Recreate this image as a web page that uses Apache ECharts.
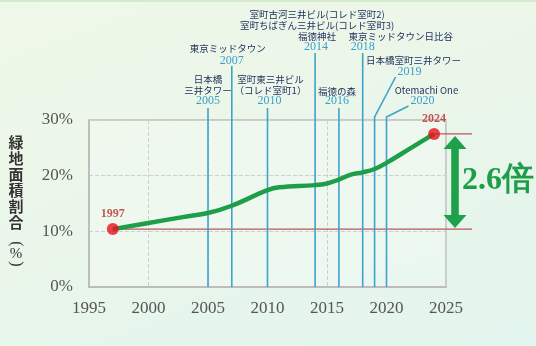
<!DOCTYPE html>
<html><head><meta charset="utf-8">
<script src="https://cdn.jsdelivr.net/npm/echarts@6/dist/echarts.min.js"></script>
<style>
html,body{margin:0;padding:0;}
#wrap{position:relative;width:536px;height:346px;background:linear-gradient(160deg,#eff8e8 0%,#eaf6ea 50%,#e2f5ee 100%);}
#strip{position:absolute;left:0;top:0;width:536px;height:2px;background:#d3ebcc;}
#c{position:absolute;left:0;top:0;width:536px;height:346px;}
</style></head>
<body><div id="wrap"><div id="strip"></div><div id="c"></div></div>
<script>
// ---- data ----
const curveYears  = [1997, 2000, 2003, 2005, 2007, 2010, 2011, 2014, 2015, 2016, 2017, 2018, 2019, 2020, 2022, 2024];
const curveValues = [10.4, 11.5, 12.6, 13.3, 14.6, 17.4, 17.9, 18.3, 18.6, 19.3, 20.2, 20.6, 21.2, 22.3, 24.9, 27.5];
const keyYears  = [1997, 2024];
const keyValues = [10.4, 27.5];
const ratioText = "2.6倍";
const eventYears = [2005, 2007, 2010, 2014, 2016, 2018, 2019, 2020];
const eventNames = [
  ["日本橋", "三井タワー"],
  ["東京ミッドタウン"],
  ["室町東三井ビル", "（コレド室町1）"],
  ["室町古河三井ビル(コレド室町2)", "室町ちばぎん三井ビル(コレド室町3)", "福徳神社"],
  ["福徳の森"],
  ["東京ミッドタウン日比谷"],
  ["日本橋室町三井タワー"],
  ["Otemachi One"]
];
const xTicks = [1995, 2000, 2005, 2010, 2015, 2020, 2025];
const yTicks = [0, 10, 20, 30];
const yAxisTitle = ["緑", "地", "面", "積", "割", "合"];
const yAxisUnit = ["(", "%", ")"];

// ---- layout (pixels) ----
const evLayout = [
  {top:108, nameDx:0,  nameY:[79,90],     yearDx:0,  yearY:101},
  {top:66,  nameDx:-4, nameY:[48],        yearDx:0,  yearY:61},
  {top:108, nameDx:3,  nameY:[79,90],     yearDx:2,  yearY:101},
  {top:53,  nameDx:2,  nameY:[14,25,36],  yearDx:1,  yearY:47},
  {top:108, nameDx:-2, nameY:[91],        yearDx:-2, yearY:101},
  {top:53,  nameDx:38, nameY:[36],        yearDx:0,  yearY:47},
  {top:117, bend:[21,77],  nameDx:39, nameY:[60], yearDx:35, yearY:72},
  {top:117, bend:[22,106], nameDx:40, nameY:[90], yearDx:36, yearY:101}
];
const SERIF = '"Liberation Serif","DejaVu Serif",serif';
const JP = '"Noto Sans CJK JP",sans-serif';

const chart = echarts.init(document.getElementById('c'), null, {renderer:'canvas'});

function eventRender(params, api){
  const i = params.dataIndex;
  const L = evLayout[i];
  const p = api.coord([api.value(0), 0]);
  const x = p[0];
  const pts = [[x, p[1]], [x, L.top]];
  if (L.bend) pts.push([x + L.bend[0], L.bend[1]]);
  const children = [{
    type:'polyline', shape:{points:pts},
    style:{stroke:'#3ea3cc', lineWidth:1.6, fill:null}
  }];
  eventNames[i].forEach((t, k) => {
    children.push({type:'text', style:{text:t, x:x + L.nameDx, y:L.nameY[k],
      fill:'#22325e', font:'400 9.5px ' + JP, align:'center', verticalAlign:'middle',
      textAlign:'center', textVerticalAlign:'middle'}});
  });
  children.push({type:'text', style:{text:String(api.value(0)), x:x + L.yearDx, y:L.yearY,
    fill:'#3a9fc8', font:'12px ' + SERIF, align:'center', verticalAlign:'middle',
    textAlign:'center', textVerticalAlign:'middle'}});
  return {type:'group', children};
}

function refLineRender(params, api){
  const p = api.coord([api.value(0), api.value(1)]);
  return {type:'line', shape:{x1:p[0], y1:p[1], x2:472, y2:p[1]},
    style:{stroke:'#b5585a', lineWidth:1.3}};
}

function arrowRender(params, api){
  const yTop = api.coord([2024, keyValues[1]])[1] + 2;
  const yBot = api.coord([1997, keyValues[0]])[1] - 1;
  const x = 455, hw = 11.5, hh = 13, sw = 3.8;
  const pts = [
    [x, yTop], [x + hw, yTop + hh], [x + sw, yTop + hh], [x + sw, yBot - hh], [x + hw, yBot - hh],
    [x, yBot], [x - hw, yBot - hh], [x - sw, yBot - hh], [x - sw, yTop + hh], [x - hw, yTop + hh]
  ];
  return {type:'group', children:[
    {type:'polygon', shape:{points:pts}, style:{fill:'#1fa04a'}},
    {type:'text', style:{text:ratioText, x:462, y:(yTop + yBot)/2 - 1, fill:'#1f9e4a',
      font:'bold 32px ' + SERIF, align:'left', verticalAlign:'middle',
      textAlign:'left', textVerticalAlign:'middle'}}
  ]};
}

const graphics = [];
yAxisTitle.forEach((ch, k) => graphics.push({type:'text', x:16, y:142 + k*16,
  style:{text:ch, font:'bold 15px ' + JP, fill:'#333', align:'center', verticalAlign:'middle'}}));
yAxisUnit.forEach((ch, k) => graphics.push({type:'text', x:16, y:[244, 254, 264][k],
  rotation:(ch === '%' ? 0 : -Math.PI/2),
  style:{text:ch, font:(ch === '%' ? '15px ' + SERIF : '16px ' + SERIF), fill:'#333',
    align:'center', verticalAlign:'middle'}}));

chart.setOption({
  animation:false,
  grid:{left:89, right:90, top:120, bottom:59, show:true, borderColor:'#bdbdbd', borderWidth:1.5,
        backgroundColor:'rgba(255,255,255,0.22)'},
  xAxis:{type:'value', min:xTicks[0], max:xTicks[xTicks.length-1], interval:5,
    axisLine:{show:true, lineStyle:{color:'#bdbdbd', width:2}}, axisTick:{show:false},
    splitLine:{show:true, lineStyle:{color:'#cfcfcf', type:'dashed', width:1}},
    axisLabel:{color:'#555', fontSize:17, fontFamily:SERIF, margin:13, formatter:v => String(v)}},
  yAxis:{type:'value', min:yTicks[0], max:yTicks[yTicks.length-1], interval:10,
    axisLine:{show:true, lineStyle:{color:'#bdbdbd', width:2}}, axisTick:{show:false},
    splitLine:{show:true, lineStyle:{color:'#cfcfcf', type:'dashed', width:1}},
    axisLabel:{color:'#555', fontSize:17, fontFamily:SERIF, margin:16, formatter:v => v + '%'}},
  graphic:graphics,
  series:[
    {type:'custom', renderItem:eventRender, data:eventYears.map(y => [y]), clip:false, z:3,
      encode:{x:0}, silent:true},
    {type:'custom', renderItem:refLineRender, data:keyYears.map((y,i) => [y, keyValues[i]]), z:2, clip:false},
    {type:'custom', renderItem:arrowRender, data:[[2024, keyValues[1]]], z:4, clip:false},
    {type:'line', data:curveYears.map((y,i) => [y, curveValues[i]]), smooth:0.4, showSymbol:false,
      lineStyle:{color:'#1f9e4a', width:4.5}, z:5},
    {type:'scatter', data:keyYears.map((y,i) => [y, keyValues[i]]), symbolSize:12,
      itemStyle:{color:'#e8101c'}, z:6,
      label:{show:true, position:'top', distance:3, formatter:p => String(p.value[0]),
        color:'#b52d2d', fontSize:12, fontWeight:'bold', fontFamily:SERIF}}
  ]
});
</script></body></html>
